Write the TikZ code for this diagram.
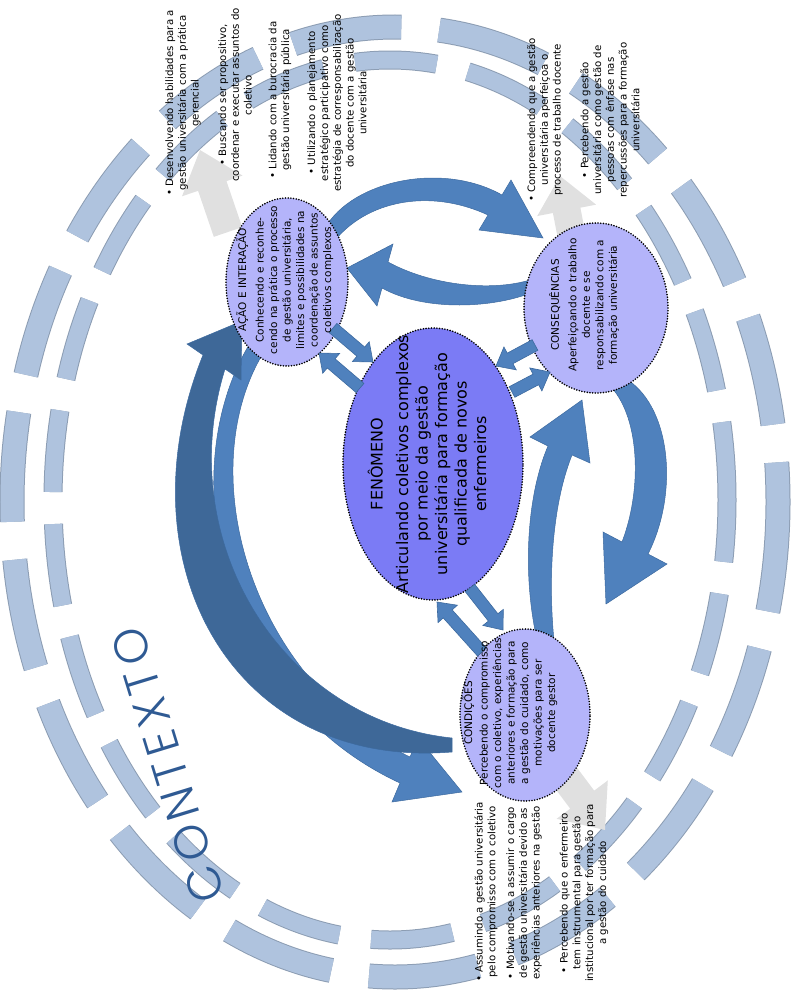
\documentclass[tikz,border=0pt]{standalone}
\usepackage{fontspec}
\setmainfont{DejaVu Sans}
\IfFontExistsTF{Poppins Light}{\newfontfamily\ctxfont{Poppins Light}}{\newfontfamily\ctxfont{Poppins}}
\usetikzlibrary{shapes.geometric,calc}

\definecolor{ringc}{HTML}{AFC3DE}
\definecolor{ringe}{HTML}{8C9DB3}
\definecolor{arrb}{HTML}{4F81BD}
\definecolor{arrbe}{HTML}{3D6A9F}
\definecolor{arrd}{HTML}{3E6898}
\definecolor{grayc}{HTML}{E0E0E0}
\definecolor{fenc}{HTML}{7B7BF5}
\definecolor{elc}{HTML}{B4B4FA}
\definecolor{ctxc}{HTML}{2F5A93}

% #1 start, #2 tip, #3 shaft half width, #4 head half width, #5 head length, #6 style
\newcommand\blockarr[6]{%
  \coordinate (ba-h) at ($(#2)!#5!(#1)$);
  \path[#6] ($(#1)!#3!90:(#2)$) -- ($(ba-h)!#3!90:(#2)$) -- ($(ba-h)!#4!90:(#2)$)
    -- (#2) -- ($(ba-h)!#4!-90:(#2)$) -- ($(ba-h)!#3!-90:(#2)$) -- ($(#1)!#3!-90:(#2)$) -- cycle;
}

\begin{document}
\begin{tikzpicture}[x=1pt,y=-1pt,
  ell/.style={ellipse, draw=black, line width=1.8pt, dash pattern=on 0pt off 2.7pt, line cap=round, inner sep=0pt},
  bigarr/.style={fill=arrb, draw=arrbe, line width=0.5pt},
  darkarr/.style={fill=arrd, draw=arrbe, line width=0.5pt},
  smallarr/.style={fill=arrb, draw=arrbe, line width=0.6pt},
  grayarrow/.style={fill=grayc},
  elltext/.style={rotate=90, align=center, font=\fontsize{10.5}{13.5}\selectfont},
  bullettext/.style={rotate=90, align=center, font=\fontsize{10.2}{12.8}\selectfont},
  ringout/.style={line width=#1, dash pattern=on 110pt off 38pt},
  ringin/.style={line width=#1, dash pattern=on 82pt off 32pt, dash phase=20pt}
]
\useasboundingbox (0,0) rectangle (798,993);

% context rings
\draw[ringe, ringout=25pt] (395,502) ellipse [x radius=383, y radius=475];
\draw[ringc, ringout=23pt] (395,502) ellipse [x radius=383, y radius=475];
\draw[ringe, ringin=19pt] (390,500) ellipse [x radius=337, y radius=440];
\draw[ringc, ringin=17pt] (390,500) ellipse [x radius=337, y radius=440];

% gray arrows
\coordinate (g1s) at (228,232); \coordinate (g1e) at (200,150);
\coordinate (g2s) at (572,238); \coordinate (g2e) at (560,176);
\coordinate (g3s) at (560,770); \coordinate (g3e) at (605,830);
\blockarr{g1s}{g1e}{15pt}{32pt}{38pt}{grayarrow}
\blockarr{g2s}{g2e}{14pt}{30pt}{35pt}{grayarrow}
\blockarr{g3s}{g3e}{15pt}{32pt}{38pt}{grayarrow}

% big curved arrows
\path[bigarr] (322,234) .. controls (345,182) and (440,160) .. (502,195) -- (511,180) -- (543,238)
  -- (479,230) -- (488,215) .. controls (430,188) and (365,200) .. (332,244) -- cycle;
\path[bigarr] (530,280) .. controls (490,292) and (430,285) .. (388,262) -- (393,244) -- (347,268)
  -- (377,306) -- (382,288) .. controls (425,312) and (495,308) .. (533,292) -- cycle;
\path[bigarr] (628,380) .. controls (672,410) and (678,495) .. (648,554) -- (667,564) -- (606,604)
  -- (603,532) -- (622,542) .. controls (642,490) and (640,420) .. (612,388) -- cycle;
\path[bigarr] (540,652) .. controls (522,585) and (525,500) .. (548,446) -- (530,437) -- (582,400)
  -- (590,463) -- (572,455) .. controls (550,510) and (548,590) .. (555,650) -- cycle;
\path[bigarr] (265,350) .. controls (190,470) and (250,680) .. (410,757) -- (418,738) -- (462,792)
  -- (392,802) -- (400,783) .. controls (220,700) and (170,470) .. (252,340) -- cycle;
\path[darkarr] (452,752) .. controls (230,770) and (120,560) .. (203,355) -- (187,344) -- (242,321)
  -- (241,380) -- (225,369) .. controls (172,540) and (280,720) .. (452,738) -- cycle;

% ellipses
\node[ell, fill=fenc, minimum width=180pt, minimum height=272pt] (fen) at (433,464) {};
\node[ell, fill=elc, minimum width=122pt, minimum height=168pt] (acao) at (287,282) {};
\node[ell, fill=elc, minimum width=144pt, minimum height=170pt] (cons) at (596,308) {};
\node[ell, fill=elc, minimum width=130pt, minimum height=172pt] (cond) at (525,715) {};

% small arrows
\coordinate (a1s) at (333,328); \coordinate (a1e) at (373,362);
\coordinate (a2s) at (360,388); \coordinate (a2e) at (319,353);
\coordinate (a3s) at (535,345); \coordinate (a3e) at (496,366);
\coordinate (a4s) at (512,392); \coordinate (a4e) at (550,372);
\coordinate (a5s) at (470,588); \coordinate (a5e) at (503,630);
\coordinate (a6s) at (482,652); \coordinate (a6e) at (437,602);
\blockarr{a1s}{a1e}{6pt}{13pt}{16pt}{smallarr}
\blockarr{a2s}{a2e}{6pt}{13pt}{16pt}{smallarr}
\blockarr{a3s}{a3e}{6pt}{13pt}{16pt}{smallarr}
\blockarr{a4s}{a4e}{6pt}{13pt}{16pt}{smallarr}
\blockarr{a5s}{a5e}{6pt}{13pt}{16pt}{smallarr}
\blockarr{a6s}{a6e}{6pt}{13pt}{16pt}{smallarr}

% ellipse texts
\node[rotate=90, align=center, font=\fontsize{16}{19.5}\selectfont] (fent) at (427,464)
  {FENÔMENO\\[6pt]Articulando coletivos complexos\\por meio da gestão\\universitária para formação\\qualificada de novos\\enfermeiros};
\node[elltext] (acaot) at (285,280)
  {AÇÃO E INTERAÇÃO\\[4pt]Conhecendo e reconhe-\\cendo na prática o processo\\de gestão universitária,\\limites e possibilidades na\\coordenação de assuntos\\coletivos complexos};
\node[elltext] (const) at (584,305)
  {CONSEQUÊNCIAS\\[4pt]Aperfeiçoando o trabalho\\docente e se\\responsabilizando com a\\formação universitária};
\node[elltext] (condt) at (510,713)
  {CONDIÇÕES\\[2pt]Percebendo o compromisso\\com o coletivo, experiências\\anteriores e formação para\\a gestão do cuidado, como\\motivações para ser\\docente gestor};

% bullet texts
\node[bullettext] (b1) at (183,103) {• Desenvolvendo habilidades para a\\gestão universitária com a prática\\gerencial};
\node[bullettext] (b2) at (235,95) {• Buscando ser propositivo,\\coordenar e executar assuntos do\\coletivo};
\node[bullettext] (b3) at (280,100) {• Lidando com a burocracia da\\gestão universitária pública};
\node[bullettext] (b4) at (337,103) {• Utilizando o planejamento\\estratégico participativo como\\estratégia de corresponsabilização\\do docente com a gestão\\universitária};
\node[bullettext] (b5) at (545,120) {• Compreendendo que a gestão\\universitária aperfeiçoa o\\processo de trabalho docente};
\node[bullettext] (b6) at (610,120) {• Percebendo a gestão\\universitária como gestão de\\pessoas com ênfase nas\\repercussões para a formação\\universitária};
\node[bullettext] (b7) at (486,892) {• Assumindo a gestão universitária\\pelo compromisso com o coletivo};
\node[bullettext] (b8) at (524,893) {• Motivando-se a assumir o cargo\\de gestão universitária devido as\\experiências anteriores na gestão};
\node[bullettext] (b9) at (584,893) {• Percebendo que o enfermeiro\\tem instrumental para gestão\\institucional por ter formação para\\a gestão do cuidado};

% CONTEXTO
\node[rotate=107, text=ctxc, font=\ctxfont\fontsize{47}{47}\selectfont] (ctx) at (168,765)
  {C\kern6pt O\kern6pt N\kern6pt T\kern6pt E\kern6pt X\kern6pt T\kern6pt O};
\end{tikzpicture}
\end{document}
